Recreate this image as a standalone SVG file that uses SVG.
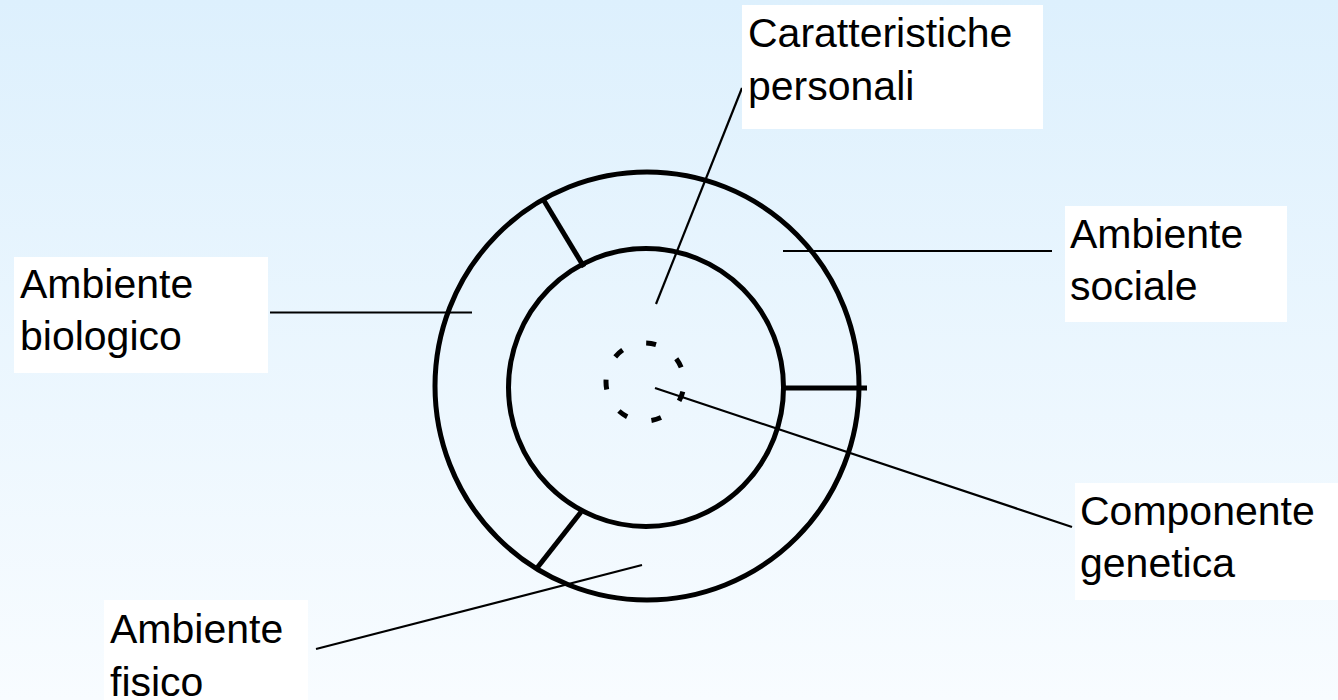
<svg xmlns="http://www.w3.org/2000/svg" width="1338" height="700" viewBox="0 0 1338 700">
  <defs>
    <linearGradient id="bg" x1="0" y1="0" x2="0" y2="1">
      <stop offset="0" stop-color="#DDF0FD"/>
      <stop offset="1" stop-color="#F8FCFF"/>
    </linearGradient>
  </defs>
  <style>
    .ring { fill: none; stroke: #000; stroke-width: 5; }
    .div { stroke: #000; stroke-width: 5; stroke-linecap: butt; }
    .lead { stroke: #000; stroke-width: 2.2; fill: none; }
    .box { fill: #FFFFFF; stroke: none; }
    .lbl { font-family: "Liberation Sans", Arial, sans-serif; font-size: 41px; fill: #000; }
  </style>
  <rect x="0" y="0" width="1338" height="700" fill="url(#bg)"/>

  <g id="rings">
    <ellipse class="ring" cx="647" cy="386" rx="212" ry="214"/>
    <ellipse class="ring" cx="646" cy="387.5" rx="137.5" ry="139"/>
    <circle cx="645" cy="382" r="39" fill="none" stroke="#000" stroke-width="5" stroke-dasharray="10 25" stroke-dashoffset="-9.7"/>
    <line class="div" x1="543" y1="199" x2="584" y2="267"/>
    <line class="div" x1="784" y1="388" x2="867" y2="388"/>
    <line class="div" x1="581" y1="512" x2="537" y2="568"/>
  </g>

  <g id="connectors">
    <line class="lead" x1="656" y1="304" x2="742" y2="88"/>
    <line class="lead" x1="783" y1="251" x2="1052" y2="251"/>
    <line class="lead" x1="270" y1="312.5" x2="472" y2="312.5"/>
    <line class="lead" x1="655" y1="388" x2="1072" y2="527"/>
    <line class="lead" x1="642" y1="565" x2="316" y2="649"/>
  </g>

  <g id="caratteristiche">
    <rect class="box" x="742" y="5" width="301" height="124"/>
    <text class="lbl" x="748" y="47">Caratteristiche</text>
    <text class="lbl" x="748" y="100">personali</text>
  </g>

  <g id="sociale">
    <rect class="box" x="1065" y="206" width="222" height="116"/>
    <text class="lbl" x="1070" y="248">Ambiente</text>
    <text class="lbl" x="1070" y="300">sociale</text>
  </g>

  <g id="biologico">
    <rect class="box" x="14" y="257" width="254" height="116"/>
    <text class="lbl" x="20" y="298">Ambiente</text>
    <text class="lbl" x="20" y="350">biologico</text>
  </g>

  <g id="genetica">
    <rect class="box" x="1075" y="483" width="263" height="117"/>
    <text class="lbl" x="1080" y="525">Componente</text>
    <text class="lbl" x="1080" y="577">genetica</text>
  </g>

  <g id="fisico">
    <rect class="box" x="104" y="600" width="204" height="100"/>
    <text class="lbl" x="110" y="643">Ambiente</text>
    <text class="lbl" x="110" y="696">fisico</text>
  </g>
</svg>
